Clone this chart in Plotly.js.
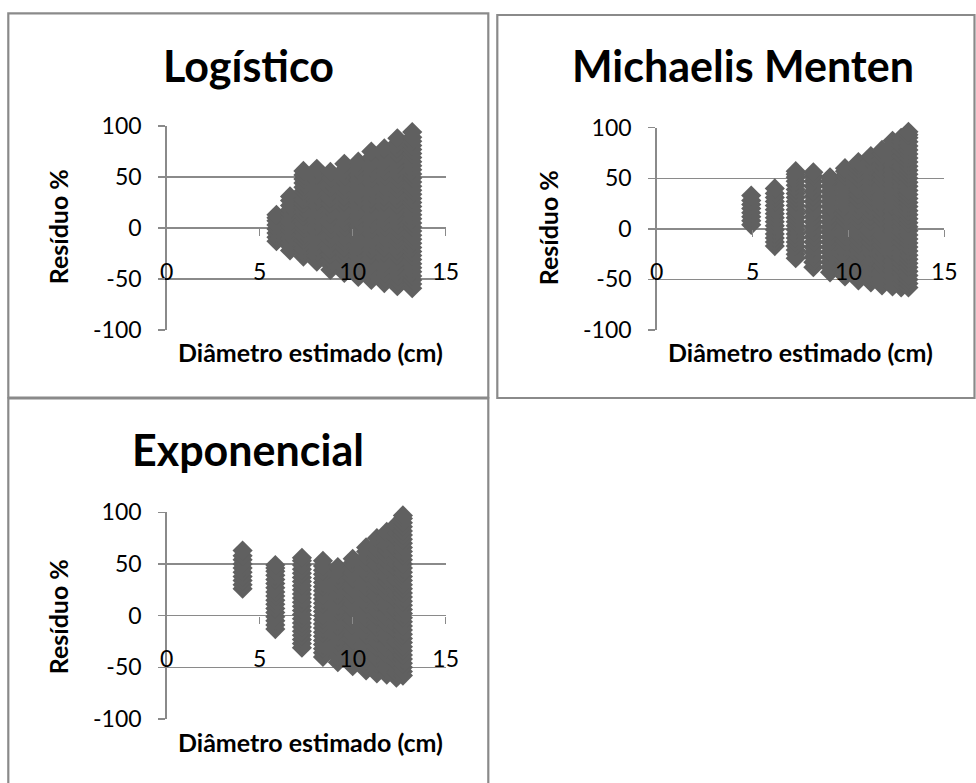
<!DOCTYPE html>
<html>
<head>
<meta charset="utf-8">
<script src="https://cdn.plot.ly/plotly-3.0.1.min.js"></script>
<style>html,body{margin:0;padding:0;background:#fff;}#chart{width:976px;height:783px;}</style>
</head>
<body>
<div id="chart"></div>
<script>
// ---------------- DATA ----------------
const panelTitles = ["Logístico", "Michaelis Menten", "Exponencial"];
const xAxisTitle = "Diâmetro estimado (cm)";
const yAxisTitle = "Resíduo %";
const xTicks = [0, 5, 10, 15];
const yTicks = [-100, -50, 0, 50, 100];

// Logístico: column x positions and residuals in each column
const logX = [5.9, 6.63, 7.35, 8.07, 8.8, 9.55, 10.3, 11.0, 11.7, 12.4, 13.2];
const logY = [
  [-13,-9,-5,-1,3,7,10,13],
  [-22,-18,-14,-10,-6,-2,2,6,10,14,18,22,27,31],
  [-28,-24,-20,-16,-12,-8,-4,0,4,8,12,16,20,24,28,32,36,40,44,48,52,56],
  [-33,-28,-23,-18,-13,-8,-3,2,7,12,17,22,27,32,37,42,47,52,58],
  [-41,-36,-31,-26,-21,-16,-11,-6,-1,4,9,14,19,24,29,34,39,44,49,55],
  [-44,-39,-34,-29,-24,-19,-14,-9,-4,1,6,11,16,21,26,31,36,41,46,51,57,63],
  [-48,-43,-38,-33,-28,-23,-18,-13,-8,-3,2,7,12,17,22,27,32,37,42,47,52,57,61,65],
  [-51,-46,-41,-36,-31,-26,-21,-16,-11,-6,-1,4,9,14,19,24,29,34,39,44,49,54,59,64,69,75],
  [-54,-49,-44,-39,-34,-29,-24,-19,-14,-9,-4,1,6,11,16,21,26,31,36,41,46,51,56,61,66,71,78],
  [-57,-52,-47,-42,-37,-32,-27,-22,-17,-12,-7,-2,3,8,13,18,23,28,33,38,43,48,53,58,63,68,73,78,83,88],
  [-59,-55,-51,-47,-43,-39,-35,-31,-27,-23,-19,-15,-11,-7,-3,1,5,9,13,17,21,25,29,33,37,41,45,49,53,57,61,65,69,73,77,81,85,89,94]
];

// Michaelis Menten
const mmX = [4.93, 6.16, 7.25, 8.17, 9.04, 9.82, 10.52, 11.17, 11.75, 12.3, 12.75, 13.13];
const mmY = [
  [4,8,12,16,20,24,28,33],
  [-17,-13,-9,-5,-1,3,7,11,15,19,23,27,31,35,40],
  [-29,-25,-21,-17,-13,-9,-5,-1,3,7,11,15,19,23,27,31,35,39,43,47,51,54,57],
  [-38,-33,-28,-23,-18,-13,-8,-3,2,7,12,17,22,27,32,37,42,47,52,56],
  [-43,-38,-33,-28,-23,-18,-13,-8,-3,2,7,12,17,22,27,32,37,42,47,51],
  [-47,-42,-37,-32,-27,-22,-17,-12,-7,-2,3,8,13,18,23,28,33,38,43,48,53,57,60],
  [-51,-46,-41,-36,-31,-26,-21,-16,-11,-6,-1,4,9,14,19,24,29,34,39,44,49,54,59,63,66],
  [-53,-48,-43,-38,-33,-28,-23,-18,-13,-8,-3,2,7,12,17,22,27,32,37,42,47,52,57,62,67,72],
  [-56,-51,-46,-41,-36,-31,-26,-21,-16,-11,-6,-1,4,9,14,19,24,29,34,39,44,49,54,59,64,69,74,78],
  [-57,-52,-47,-42,-37,-32,-27,-22,-17,-12,-7,-2,3,8,13,18,23,28,33,38,43,48,53,58,63,68,73,78,83,87],
  [-58,-53,-48,-43,-38,-33,-28,-23,-18,-13,-8,-3,2,7,12,17,22,27,32,37,42,47,52,57,62,67,72,77,82,86,90],
  [-58,-54,-50,-46,-42,-38,-34,-30,-26,-22,-18,-14,-10,-6,-2,2,6,10,14,18,22,26,30,34,38,42,46,50,54,58,62,66,70,74,78,82,86,90,93,96]
];

// Exponencial
const expX = [4.08, 5.84, 7.27, 8.4, 9.2, 10.0, 10.72, 11.3, 11.83, 12.35, 12.7];
const expY = [
  [26,30,34,38,42,46,50,54,58,63],
  [-13,-9,-5,-1,3,7,11,15,19,23,27,31,35,39,43,46,49],
  [-31,-27,-23,-19,-15,-11,-7,-3,1,5,9,13,17,21,25,29,33,37,41,45,49,53,56],
  [-40,-36,-32,-28,-24,-20,-16,-12,-8,-4,0,4,8,12,16,20,24,28,32,36,40,44,48,53],
  [-45,-40,-35,-30,-25,-20,-15,-10,-5,0,5,10,15,20,25,30,35,40,44,47],
  [-49,-44,-39,-34,-29,-24,-19,-14,-9,-4,1,6,11,16,21,26,31,36,41,46,51,55],
  [-53,-48,-43,-38,-33,-28,-23,-18,-13,-8,-3,2,7,12,17,22,27,32,37,42,47,52,57,62,66],
  [-56,-51,-46,-41,-36,-31,-26,-21,-16,-11,-6,-1,4,9,14,19,24,29,34,39,44,49,54,59,64,69,75],
  [-57,-52,-47,-42,-37,-32,-27,-22,-17,-12,-7,-2,3,8,13,18,23,28,33,38,43,48,53,58,63,68,73,77,81],
  [-60,-55,-50,-45,-40,-35,-30,-25,-20,-15,-10,-5,0,5,10,15,20,25,30,35,40,45,50,55,60,65,70,75,80,84,88],
  [-58,-54,-50,-46,-42,-38,-34,-30,-26,-22,-18,-14,-10,-6,-2,2,6,10,14,18,22,26,30,34,38,42,46,50,54,58,62,66,70,74,78,82,86,90,94,97]
];

// ---------------- BUILD ----------------
const W = 976, H = 783;
const px = v => v / W;
const py = v => 1 - v / H;
const FONT = "Lato, 'Open Sans', sans-serif";
const gridC = "#8a8a8a";
const markC = "#606060";

function flatten(xs, ys) {
  const X = [], Y = [];
  xs.forEach((x, i) => ys[i].forEach(y => { X.push(x); Y.push(y); }));
  return {X, Y};
}

const sets = [flatten(logX, logY), flatten(mmX, mmY), flatten(expX, expY)];
const axIds = [["x", "y"], ["x2", "y2"], ["x3", "y3"]];

const traces = sets.map((s, i) => ({
  type: "scatter", mode: "markers",
  x: s.X, y: s.Y,
  xaxis: axIds[i][0], yaxis: axIds[i][1],
  cliponaxis: false,
  marker: {symbol: "diamond", size: 15.5, color: markC, line: {width: 0}},
  hoverinfo: "skip", showlegend: false
}));

// panel geometry (pixels)
const geo = [
  {xl: 166.7, xr: 445.7, yt: 126, yb: 330, y0: 228},
  {xl: 656.7, xr: 944.3, yt: 127.7, yb: 330, y0: 228.8},
  {xl: 166.7, xr: 445.7, yt: 512.3, yb: 719, y0: 615.6}
];

const tickFont = {family: FONT, size: 23, color: "#000"};
const layout = {
  width: W, height: H,
  margin: {l: 0, r: 0, t: 0, b: 0},
  paper_bgcolor: "#fff", plot_bgcolor: "rgba(0,0,0,0)",
  showlegend: false,
  annotations: [], shapes: []
};

geo.forEach((g, i) => {
  const sx = i === 0 ? "" : String(i + 1);
  layout["xaxis" + sx] = {
    domain: [px(g.xl), px(g.xr)], range: [0, 15],
    anchor: "free", position: py(g.y0),
    tickvals: xTicks, ticktext: xTicks.map(String),
    ticks: "outside", ticklen: 7, tickwidth: 1.5, tickcolor: gridC,
    showline: false, showgrid: false, zeroline: false,
    tickfont: tickFont, ticklabelstandoff: 16,
    layer: "above traces", fixedrange: true
  };
  layout["yaxis" + sx] = {
    domain: [py(g.yb), py(g.yt)], range: [-100, 100],
    anchor: "x" + sx,
    tickvals: yTicks, ticktext: yTicks.map(String),
    ticks: "outside", ticklen: 7, tickwidth: 1.5, tickcolor: gridC,
    showline: true, linecolor: gridC, linewidth: 1.5,
    showgrid: true, gridcolor: gridC, gridwidth: 1.5,
    zeroline: true, zerolinecolor: gridC, zerolinewidth: 1.5,
    tickfont: tickFont, ticklabelstandoff: 12, fixedrange: true
  };
});

// panel titles
const titlePos = [[248, 65], [742.5, 65], [248, 449]];
titlePos.forEach((p, i) => layout.annotations.push({
  xref: "paper", yref: "paper", x: px(p[0]), y: py(p[1]),
  xanchor: "center", yanchor: "middle", showarrow: false,
  text: "<b>" + panelTitles[i] + "</b>",
  font: {family: FONT, size: 43, color: "#000"}
}));

// axis titles
const yTitlePos = [[58.3, 227], [548.3, 228], [58.3, 617]];
const xTitlePos = [[310.8, 352], [800.8, 352], [310.8, 742]];
for (let i = 0; i < 3; i++) {
  layout.annotations.push({
    xref: "paper", yref: "paper", x: px(yTitlePos[i][0]), y: py(yTitlePos[i][1]),
    xanchor: "center", yanchor: "middle", showarrow: false, textangle: -90,
    text: "<b>" + yAxisTitle + "</b>",
    font: {family: FONT, size: 25, color: "#000"}
  });
  layout.annotations.push({
    xref: "paper", yref: "paper", x: px(xTitlePos[i][0]), y: py(xTitlePos[i][1]),
    xanchor: "center", yanchor: "middle", showarrow: false,
    text: "<b>" + xAxisTitle + "</b>",
    font: {family: FONT, size: 25, color: "#000"}
  });
}

// chart borders
const borders = [[8.3, 13.3, 488.3, 397.5], [497.3, 15, 974.5, 398], [8.3, 398.3, 488.3, 790]];
borders.forEach(b => layout.shapes.push({
  type: "rect", xref: "paper", yref: "paper",
  x0: px(b[0]), x1: px(b[2]), y0: py(b[3]), y1: py(b[1]),
  line: {color: gridC, width: 2.2}, fillcolor: "rgba(0,0,0,0)", layer: "below"
}));

Plotly.newPlot("chart", traces, layout, {staticPlot: true, displayModeBar: false});
</script>
</body>
</html>
